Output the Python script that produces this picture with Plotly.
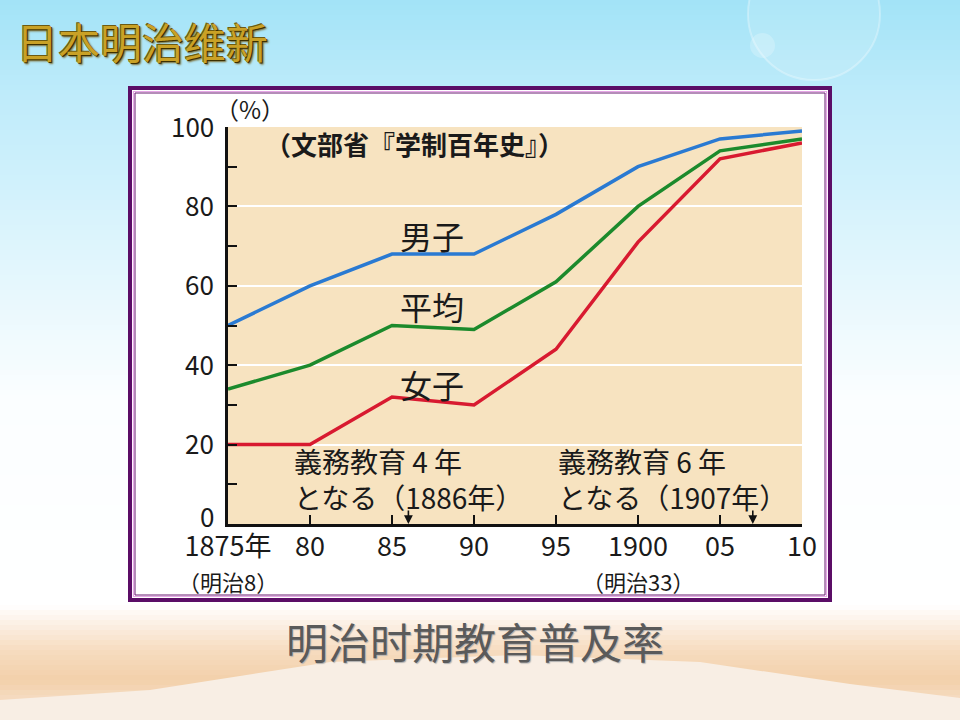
import plotly.graph_objects as go

# ---------------- data ----------------
years = [1875, 1880, 1885, 1890, 1895, 1900, 1905, 1910]
male = [50, 60, 68, 68, 78, 90, 97, 99]
average = [34, 40, 50, 49, 61, 80, 94, 97]
female = [20, 20, 32, 30, 44, 71, 92, 96]

series_names = ["男子", "平均", "女子"]

x_tick_vals = [1875, 1880, 1885, 1890, 1895, 1900, 1905, 1910]
x_tick_text = ["1875年", "80", "85", "90", "95", "1900", "05", "10"]
era_vals = [1875, 1900]
era_text = ["（明治8）", "（明治33）"]

y_tick_vals = [0, 20, 40, 60, 80, 100]
y_tick_text = ["0", "20", "40", "60", "80", "100"]
y_minor_vals = [10, 30, 50, 70, 90]

policy_years = [1886, 1907]
policy_line1 = ["義務教育 4 年", "義務教育 6 年"]
policy_line2 = ["となる（1886年）", "となる（1907年）"]

page_title = "日本明治维新"
source_text = "（文部省『学制百年史』）"
caption_text = "明治时期教育普及率"

# ---------------- geometry helpers ----------------
W, H = 960, 720
L, R, T, B = 228, 802, 127, 524


def px(xp):
    return (xp - L) / (R - L)


def py(yp):
    return (B - yp) / (B - T)


JP = "Noto Sans CJK JP"
SC = "Noto Sans CJK SC"
INK = "#1a1a1a"

fig = go.Figure()

colors = ["#2a7ad2", "#1c8a2c", "#d81a30"]
for name, vals, col in zip(series_names, [male, average, female], colors):
    fig.add_trace(go.Scatter(
        x=years, y=vals, mode="lines", name=name,
        line=dict(color=col, width=3.5), showlegend=False,
        hoverinfo="x+y+name",
    ))

shapes = []


def hexmix(c1, c2, t):
    a = [int(c1[i:i + 2], 16) for i in (1, 3, 5)]
    b = [int(c2[i:i + 2], 16) for i in (1, 3, 5)]
    return "#%02x%02x%02x" % tuple(round(a[k] + (b[k] - a[k]) * t) for k in range(3))


# background gradient (decoration)
stops = [(0, "#a2e3f7"), (90, "#bdebfa"), (200, "#d4f2fc"), (300, "#e9f8fd"),
         (400, "#fbfeff"), (605, "#ffffff"), (625, "#fcefe3"), (650, "#f6dcc0"),
         (680, "#f3d0aa"), (700, "#f5dcc2"), (720, "#f4e2cf")]
step = 5
yy = 0
while yy < H:
    mid = yy + step / 2
    for (y0, c0), (y1, c1) in zip(stops[:-1], stops[1:]):
        if y0 <= mid <= y1:
            col = hexmix(c0, c1, (mid - y0) / (y1 - y0))
            break
    shapes.append(dict(type="rect", xref="paper", yref="paper", layer="below",
                       x0=px(0), x1=px(W), y0=py(yy + step + 0.5), y1=py(yy),
                       fillcolor=col, line=dict(width=0)))
    yy += step

# sand dune
dune = [(0, 700), (150, 690), (330, 662), (520, 655), (700, 662), (850, 684), (960, 698), (960, 720), (0, 720)]
path = "M " + " L ".join(f"{px(a)},{py(b)}" for a, b in dune) + " Z"
shapes.append(dict(type="path", xref="paper", yref="paper", layer="below", path=path,
                   fillcolor="#f8eee4", line=dict(width=0)))

# sun flare
shapes.append(dict(type="circle", xref="paper", yref="paper", layer="below",
                   x0=px(748), x1=px(880), y0=py(80), y1=py(-52),
                   fillcolor="rgba(255,255,255,0.12)", line=dict(color="rgba(255,255,255,0.3)", width=2)))
shapes.append(dict(type="circle", xref="paper", yref="paper", layer="below",
                   x0=px(750), x1=px(775), y0=py(58), y1=py(33),
                   fillcolor="rgba(255,255,255,0.22)", line=dict(width=0)))

# frame
shapes.append(dict(type="rect", xref="paper", yref="paper", layer="below",
                   x0=px(130), x1=px(830), y0=py(600), y1=py(88),
                   fillcolor="#ffffff", line=dict(color="#5b0d66", width=4)))
shapes.append(dict(type="rect", xref="paper", yref="paper", layer="below",
                   x0=px(133.5), x1=px(826.5), y0=py(596.5), y1=py(91.5),
                   fillcolor="rgba(0,0,0,0)", line=dict(color="#e6a6e6", width=1.2)))
shapes.append(dict(type="rect", xref="paper", yref="paper", layer="below",
                   x0=px(135), x1=px(825), y0=py(595), y1=py(93),
                   fillcolor="rgba(0,0,0,0)", line=dict(color="#6a1a72", width=1)))

# tan plotting area
shapes.append(dict(type="rect", xref="x", yref="y", layer="below",
                   x0=years[0], x1=years[-1], y0=0, y1=100,
                   fillcolor="#f7e3c0", line=dict(width=0)))

annotations = []

# page title
annotations.append(dict(text=page_title, xref="paper", yref="paper", x=px(14), y=py(40),
                        xanchor="left", yanchor="middle", showarrow=False,
                        font=dict(family=SC, size=42, color="#c9a126",
                                  shadow="1px 1px 0px #3d3000, -1px -1px 0px #6d5a12, 2px 2px 2px #7a6a30")))

# caption
annotations.append(dict(text=caption_text, xref="paper", yref="paper", x=px(475), y=py(640),
                        xanchor="center", yanchor="middle", showarrow=False,
                        font=dict(family=SC, size=42, color="#5a5a5a",
                                  shadow="1px 1px 1px #b0b0b0")))

# (%) unit
annotations.append(dict(text="（%）", xref="paper", yref="paper", x=px(250), y=py(108),
                        xanchor="center", yanchor="middle", showarrow=False,
                        font=dict(family=JP, size=24, color=INK)))

# source
annotations.append(dict(text=source_text, xref="paper", yref="paper", x=px(263), y=py(143),
                        xanchor="left", yanchor="middle", showarrow=False,
                        font=dict(family=JP, size=26, color=INK, weight="bold")))

# y tick labels (sit slightly above their ticks, as in the reference)
for v, t in zip(y_tick_vals, y_tick_text):
    annotations.append(dict(text=t, xref="paper", yref="y", x=px(216), y=v,
                            yshift=(9 if v == 0 else 2),
                            xanchor="right", yanchor="middle", showarrow=False,
                            font=dict(family=JP, size=26, color=INK)))

# series labels
for name, yc in zip(series_names, [235, 306, 384]):
    annotations.append(dict(text=name, xref="paper", yref="paper", x=px(432), y=py(yc),
                            xanchor="center", yanchor="middle", showarrow=False,
                            font=dict(family=JP, size=32, color=INK)))

# policy texts + arrows
for yr, t1, t2, xl in zip(policy_years, policy_line1, policy_line2, [292, 556]):
    annotations.append(dict(text=t1 + "<br>" + t2, xref="paper", yref="paper", x=px(xl), y=py(479),
                            xanchor="left", yanchor="middle", align="left", showarrow=False,
                            font=dict(family=JP, size=28, color=INK)))
    annotations.append(dict(text="", xref="x", yref="y", x=yr, y=0, ax=0, ay=-15,
                            showarrow=True, arrowhead=2, arrowsize=1.1, arrowwidth=1.6,
                            arrowcolor="#111111", standoff=0))

# era sub-labels under x ticks
for v, t in zip(era_vals, era_text):
    annotations.append(dict(text=t, xref="x", yref="paper", x=v, y=py(581),
                            xanchor="center", yanchor="middle", showarrow=False,
                            font=dict(family=JP, size=22, color=INK)))

fig.update_layout(
    width=W, height=H,
    margin=dict(l=L, r=W - R, t=T, b=H - B, pad=0),
    paper_bgcolor="#ffffff",
    plot_bgcolor="rgba(0,0,0,0)",
    shapes=shapes,
    annotations=annotations,
    showlegend=False,
    xaxis=dict(
        range=[1875, 1910], tickmode="array", tickvals=x_tick_vals, ticktext=x_tick_text,
        ticks="inside", ticklen=9, tickwidth=2, tickcolor="#111111",
        showline=True, linecolor="#111111", linewidth=3, showgrid=False, zeroline=False,
        tickfont=dict(family=JP, size=27, color=INK), ticklabelstandoff=-3,
        fixedrange=True,
    ),
    yaxis=dict(
        range=[0, 100], tickmode="array", tickvals=y_tick_vals, ticktext=y_tick_text,
        ticks="inside", ticklen=9, tickwidth=2, tickcolor="#111111",
        showline=True, linecolor="#111111", linewidth=3, showticklabels=False,
        showgrid=True, gridcolor="#ffffff", gridwidth=2, zeroline=False,
        minor=dict(tickvals=y_minor_vals, ticks="inside", ticklen=9, tickwidth=2,
                   tickcolor="#111111", showgrid=False),
        fixedrange=True,
    ),
)

fig.write_html("out.html")
